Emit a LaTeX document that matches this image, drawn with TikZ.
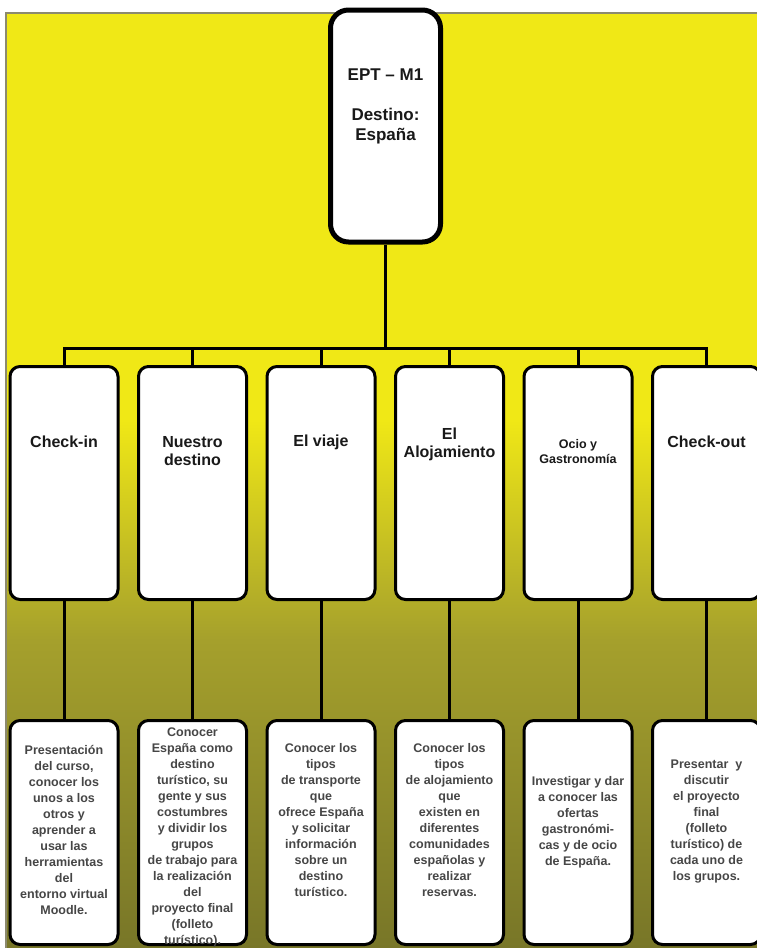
\documentclass[tikz,border=0pt]{standalone}
\usepackage{fontspec}
\setmainfont{Liberation Sans}
\definecolor{fondoam}{RGB}{240,232,22}
\definecolor{fondool}{RGB}{165,160,44}
\definecolor{fondoos}{RGB}{120,118,40}
\definecolor{bordegris}{RGB}{140,138,110}
\definecolor{textogris}{RGB}{70,70,70}

\begin{document}
\begin{tikzpicture}[x=1pt,y=-1pt,
    caja/.style={draw=black,fill=white,rounded corners=10pt,line width=3pt,
      minimum width=108pt,minimum height=233pt,inner sep=0pt},
    cajabaja/.style={caja,minimum height=224pt},
    titulo/.style={font=\bfseries\fontsize{16}{18}\selectfont,align=center,text=black!90},
    detalle/.style={font=\bfseries\fontsize{12.5}{16}\selectfont,align=center,text=textogris},
    enlace/.style={line width=3pt}]
  \useasboundingbox (0,0) rectangle (757,948);
  % fondo
  \fill[fondoam] (6,13) rectangle (757,420);
  \shade[top color=fondoam,bottom color=fondool] (6,420) rectangle (757,640);
  \shade[top color=fondool,bottom color=fondoos] (6,640) rectangle (757,948);
  \draw[bordegris,line width=2pt] (6,948) -- (6,13) -- (757,13);

  % raiz
  \node[caja,minimum width=110pt,minimum height=232pt,line width=5pt,rounded corners=18pt] (ept) at (385.5,126) {};
  \node[titulo,font=\bfseries\fontsize{17}{20}\selectfont] (ept-t) at (385.5,106) {EPT – M1\\[20pt]Destino:\\España};

  % segundo nivel
  \node[caja] (checkin) at (64,483) {};
  \node[caja] (destino) at (192.5,483) {};
  \node[caja] (viaje) at (321,483) {};
  \node[caja] (aloja) at (449.5,483) {};
  \node[caja] (ocio) at (578,483) {};
  \node[caja] (checkout) at (706.5,483) {};
  \node[titulo] (checkin-t) at (64,442) {Check-in};
  \node[titulo] (destino-t) at (192.5,451.5) {Nuestro\\destino};
  \node[titulo] (viaje-t) at (321,442) {El viaje};
  \node[titulo] (aloja-t) at (449.5,444.5) {El\\Alojamiento};
  \node[titulo,font=\bfseries\fontsize{12.5}{15}\selectfont] (ocio-t) at (578,452) {Ocio y\\Gastronomía};
  \node[titulo] (checkout-t) at (706.5,442) {Check-out};

  % tercer nivel
  \node[cajabaja] (checkin-d) at (64,832.5) {};
  \node[cajabaja] (destino-d) at (192.5,832.5) {};
  \node[cajabaja] (viaje-d) at (321,832.5) {};
  \node[cajabaja] (aloja-d) at (449.5,832.5) {};
  \node[cajabaja] (ocio-d) at (578,832.5) {};
  \node[cajabaja] (checkout-d) at (706.5,832.5) {};
  \node[detalle] (checkin-dt) at (64,830) {Presentación\\del curso,\\conocer los\\unos a los\\otros y\\aprender a\\usar las\\herramientas\\del\\entorno virtual\\Moodle.};
  \node[detalle] (destino-dt) at (192.5,837) {Conocer\\España como\\destino\\turístico, su\\gente y sus\\costumbres\\y dividir los\\grupos\\de trabajo para\\la realización\\del\\proyecto final\\(folleto\\turístico).};
  \node[detalle] (viaje-dt) at (321,820) {Conocer los\\tipos\\de transporte\\que\\ofrece España\\y solicitar\\información\\sobre un\\destino\\turístico.};
  \node[detalle] (aloja-dt) at (449.5,820) {Conocer los\\tipos\\de alojamiento\\que\\existen en\\diferentes\\comunidades\\españolas y\\realizar\\reservas.};
  \node[detalle] (ocio-dt) at (578,822) {Investigar y dar\\a conocer las\\ofertas\\gastronómi-\\cas y de ocio\\de España.};
  \node[detalle] (checkout-dt) at (706.5,822) {Presentar\ \ y\\discutir\\el proyecto\\final\\(folleto\\turístico) de\\cada uno de\\los grupos.};

  % conectores
  \coordinate (bus) at (385.5,348);
  \draw[enlace] (ept.south) -- (bus)
    (bus) -| (checkin.north) (bus) -| (destino.north) (bus) -| (viaje.north)
    (bus) -| (aloja.north) (bus) -| (ocio.north) (bus) -| (checkout.north);
  \draw[enlace] (checkin.south) -- (checkin-d.north) (destino.south) -- (destino-d.north)
    (viaje.south) -- (viaje-d.north) (aloja.south) -- (aloja-d.north)
    (ocio.south) -- (ocio-d.north) (checkout.south) -- (checkout-d.north);
\end{tikzpicture}
\end{document}
